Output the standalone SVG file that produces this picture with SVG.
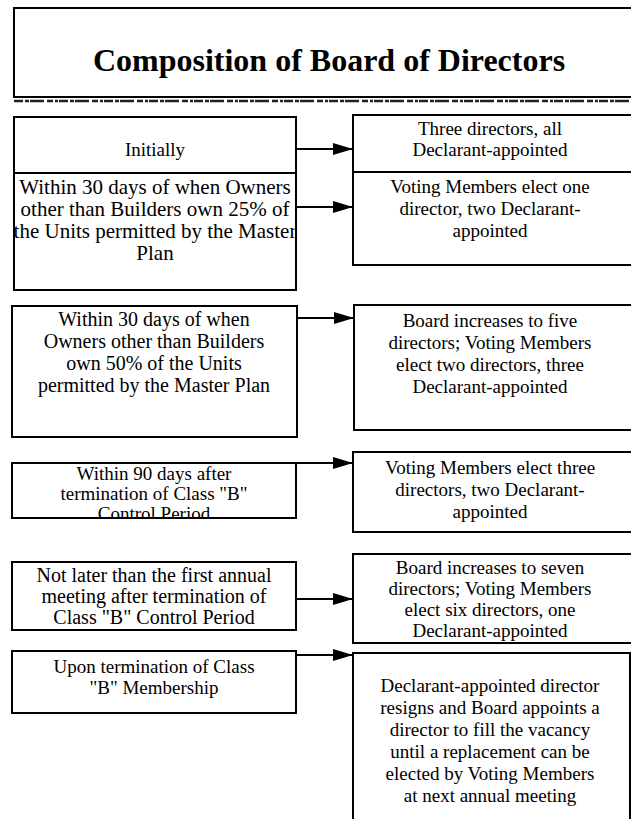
<svg xmlns="http://www.w3.org/2000/svg" width="631" height="819" viewBox="0 0 631 819">
<style>
.box{fill:none;stroke:#000;stroke-width:2}
.t{font-family:"Liberation Serif","Times New Roman",serif;font-size:19px;fill:#000;text-anchor:middle}
.big{font-size:21px}
.mid{font-size:20px}
.title{font-family:"Liberation Serif","Times New Roman",serif;font-size:32px;font-weight:bold;fill:#000;text-anchor:middle}
.conn{stroke:#000;stroke-width:2;fill:none}
</style>
<defs>
<marker id="ah" markerWidth="20" markerHeight="12" refX="20" refY="6" orient="auto" markerUnits="userSpaceOnUse">
<path d="M0,0 L20,6 L0,12 Z" fill="#000"/>
</marker>
<clipPath id="c4"><rect x="12" y="463" width="286" height="56"/></clipPath>
</defs>
<rect width="631" height="819" fill="#fff"/>
<g id="title">
<rect class="box" x="14" y="8" width="620" height="89"/>
<text class="title" x="329" y="71">Composition of Board of Directors</text>
<line x1="14" y1="101" x2="631" y2="101" stroke="#222" stroke-width="2.5" stroke-dasharray="9 2 4 1 14 3 6 2 3 1"/>
</g>
<g id="left1">
<rect class="box" x="14" y="117" width="282" height="56"/>
<text class="t" x="155" y="156">Initially</text>
</g>
<g id="left2">
<rect class="box" x="14" y="173" width="282" height="117"/>
<text class="t big" x="155" y="194">Within 30 days of when Owners</text>
<text class="t big" x="155" y="216">other than Builders own 25% of</text>
<text class="t big" x="155" y="238">the Units permitted by the Master</text>
<text class="t big" x="155" y="260">Plan</text>
</g>
<g id="right1">
<rect class="box" x="353" y="115" width="282" height="57"/>
<text class="t" x="490" y="135">Three directors, all</text>
<text class="t" x="490" y="156">Declarant-appointed</text>
</g>
<g id="right2">
<rect class="box" x="353" y="172" width="282" height="93"/>
<text class="t" x="490" y="193">Voting Members elect one</text>
<text class="t" x="490" y="215">director, two Declarant-</text>
<text class="t" x="490" y="237">appointed</text>
</g>
<g id="left3">
<rect class="box" x="12" y="306" width="285" height="131"/>
<text class="t mid" x="154" y="326">Within 30 days of when</text>
<text class="t mid" x="154" y="348">Owners other than Builders</text>
<text class="t mid" x="154" y="370">own 50% of the Units</text>
<text class="t mid" x="154" y="392">permitted by the Master Plan</text>
</g>
<g id="right3">
<rect class="box" x="354" y="305" width="281" height="125"/>
<text class="t" x="490" y="327">Board increases to five</text>
<text class="t" x="490" y="349">directors; Voting Members</text>
<text class="t" x="490" y="371">elect two directors, three</text>
<text class="t" x="490" y="393">Declarant-appointed</text>
</g>
<g id="left4">
<rect class="box" x="12" y="463" width="284" height="55"/>
<text class="t" x="154" y="480">Within 90 days after</text>
<text class="t" x="154" y="500">termination of Class "B"</text>
<text class="t" x="154" y="520" clip-path="url(#c4)">Control Period</text>
</g>
<g id="right4">
<rect class="box" x="353" y="452" width="282" height="80"/>
<text class="t" x="490" y="474">Voting Members elect three</text>
<text class="t" x="490" y="496">directors, two Declarant-</text>
<text class="t" x="490" y="518">appointed</text>
</g>
<g id="left5">
<rect class="box" x="12" y="562" width="284" height="68"/>
<text class="t mid" x="154" y="582">Not later than the first annual</text>
<text class="t mid" x="154" y="603">meeting after termination of</text>
<text class="t mid" x="154" y="624">Class "B" Control Period</text>
</g>
<g id="right5">
<rect class="box" x="353" y="554" width="282" height="89"/>
<text class="t" x="490" y="574">Board increases to seven</text>
<text class="t" x="490" y="595">directors; Voting Members</text>
<text class="t" x="490" y="616">elect six directors, one</text>
<text class="t" x="490" y="637">Declarant-appointed</text>
</g>
<g id="left6">
<rect class="box" x="12" y="651" width="284" height="62"/>
<text class="t" x="154" y="673">Upon termination of Class</text>
<text class="t" x="154" y="694">"B" Membership</text>
</g>
<g id="right6">
<rect class="box" x="353" y="653" width="277" height="170"/>
<text class="t" x="490" y="692">Declarant-appointed director</text>
<text class="t" x="490" y="714">resigns and Board appoints a</text>
<text class="t" x="490" y="736">director to fill the vacancy</text>
<text class="t" x="490" y="758">until a replacement can be</text>
<text class="t" x="490" y="780">elected by Voting Members</text>
<text class="t" x="490" y="802">at next annual meeting</text>
</g>
<g id="connectors">
<line class="conn" x1="296" y1="149" x2="353" y2="149" marker-end="url(#ah)"/>
<line class="conn" x1="296" y1="207" x2="353" y2="207" marker-end="url(#ah)"/>
<line class="conn" x1="297" y1="318" x2="354" y2="318" marker-end="url(#ah)"/>
<line class="conn" x1="296" y1="463" x2="353" y2="463" marker-end="url(#ah)"/>
<line class="conn" x1="296" y1="599" x2="353" y2="599" marker-end="url(#ah)"/>
<line class="conn" x1="296" y1="655" x2="353" y2="655" marker-end="url(#ah)"/>
</g>
</svg>
